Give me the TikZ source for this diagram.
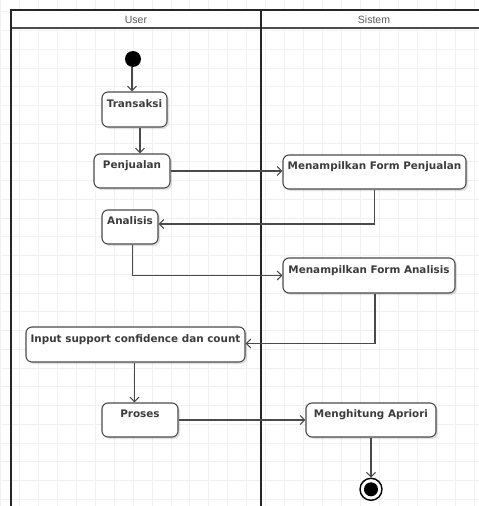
\documentclass[tikz,border=0pt]{standalone}
\usepackage{fontspec}
\setmainfont{DejaVu Sans}
\newfontfamily\hdrfont{Liberation Sans}
\usetikzlibrary{arrows.meta,shadows}
\definecolor{gridc}{HTML}{F0F0F0}
\definecolor{linec}{HTML}{4A4A4A}
\definecolor{textc}{HTML}{3C3C3C}
\tikzset{
  gridline/.style={draw=gridc, line width=0.8pt},
  lane/.style={draw=black!85, line width=2pt},
  actbox/.style={draw=linec, line width=1.1pt, rounded corners=6pt, fill=white,
    drop shadow={shadow xshift=2pt, shadow yshift=-2pt, opacity=0.12, fill=black},
    text=textc, font=\fontsize{10.4}{12}\selectfont\bfseries,
    text height=7.6pt, text depth=12pt, inner sep=0pt},
  flow/.style={draw=linec, line width=1.1pt, -{Straight Barb[length=4.5pt,width=9pt,line width=1.1pt]}},
  hdr/.style={text=black!65, font=\hdrfont\fontsize{10.5}{12}\selectfont},
  startdot/.style={circle, fill=black, minimum size=16pt, inner sep=0pt},
  endring/.style={circle, draw=black, line width=1.4pt, fill=white, minimum size=22pt, inner sep=0pt},
}
\begin{document}
\begin{tikzpicture}[x=1pt, y=-1pt]
\useasboundingbox (0,0) rectangle (479,506);
% grid
\foreach \i in {0,...,25} \draw[gridline] ({0.35+18.95*\i},0) -- ({0.35+18.95*\i},506);
\foreach \j in {0,...,27} \draw[gridline] (0,{-6.95+18.75*\j}) -- (479,{-6.95+18.75*\j});
% swimlanes
\fill[white] (11,10) rectangle (479,27.7);
\draw[lane] (11,10) -- (479,10);
\draw[lane, draw=black!70] (11,27.7) -- (479,27.7);
\draw[lane] (11,9) -- (11,506);
\draw[lane] (261.3,9) -- (261.3,506);
\node[hdr] (huser) at (136,19.5) {User};
\node[hdr] (hsis) at (374,19.5) {Sistem};
% nodes
\node[startdot] (start) at (133,59) {};
\node[actbox, minimum width=65pt, minimum height=35pt] (trans) at (134.5,109.5) {Transaksi};
\node[actbox, minimum width=76pt, minimum height=34pt] (penj) at (132,171) {Penjualan};
\node[actbox, minimum width=183pt, minimum height=34pt] (mfp) at (374.5,172) {Menampilkan Form Penjualan};
\node[actbox, minimum width=56pt, minimum height=34pt] (anal) at (130,227) {Analisis};
\node[actbox, minimum width=172pt, minimum height=35pt] (mfa) at (369,275.5) {Menampilkan Form Analisis};
\node[actbox, minimum width=219pt, minimum height=35pt] (inp) at (135.5,344.5) {Input support confidence dan count};
\node[actbox, minimum width=76pt, minimum height=34pt] (pros) at (140,420) {Proses};
\node[actbox, minimum width=130pt, minimum height=34pt] (ma) at (371,420) {Menghitung Apriori};
\node[endring] (endn) at (371,489.3) {};
\node[circle, fill=black, minimum size=14pt, inner sep=0pt] (enddot) at (endn.center) {};
% connectors
\draw[flow] ([xshift=-1pt]start.south) -- ([xshift=-1pt]start.south |- trans.north);
\draw[flow] ([xshift=5.5pt]trans.south) -- ([xshift=5.5pt]trans.south |- penj.north);
\draw[flow] (penj.east) -- (penj.east -| mfp.west);
\draw[flow] (mfp.south) |- ([yshift=3pt]anal.east);
\draw[flow] ([xshift=2.3pt]anal.south) |- (mfa.west);
\draw[flow] ([xshift=6pt]mfa.south) |- ([yshift=1pt]inp.east);
\draw[flow] ([xshift=-1pt]inp.south) -- ([xshift=-1pt]inp.south |- pros.north);
\draw[flow] (pros.east) -- (pros.east -| ma.west);
\draw[flow] (ma.south) -- (endn.north);
\end{tikzpicture}
\end{document}
